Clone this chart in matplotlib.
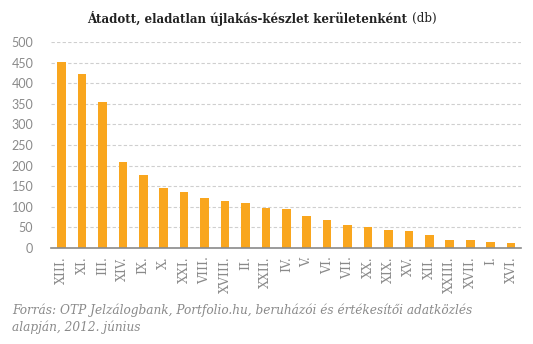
import matplotlib.pyplot as plt
import numpy as np

# districts (sorted by stock) and unsold new-build units
districts = ['XIII.', 'XI.', 'III.', 'XIV.', 'IX.', 'X.', 'XXI.', 'VIII.', 'XVIII.', 'II.',
             'XXII.', 'IV.', 'V.', 'VI.', 'VII.', 'XX.', 'XIX.', 'XV.', 'XII.', 'XXIII.',
             'XVII.', 'I.', 'XVI.']
units = [452, 423, 355, 209, 178, 146, 137, 122, 115, 110,
         98, 95, 78, 69, 57, 52, 44, 42, 32, 20,
         20, 15, 13]
yticks = [0, 50, 100, 150, 200, 250, 300, 350, 400, 450, 500]

bar_color = '#F9A61E'
grey = '#8a8a8a'

fig = plt.figure(figsize=(5.33, 3.44), dpi=100)
ax = fig.add_axes([51.3 / 533, (344 - 248) / 344, 470 / 533, 206 / 344])

x = np.arange(len(districts))
ax.bar(x, units, width=0.42, color=bar_color, zorder=3)

ax.set_xlim(-0.5, len(districts) - 0.5)
ax.set_ylim(0, 500)
ax.set_yticks(yticks)
ax.set_yticklabels([str(v) for v in yticks], fontsize=9, color=grey, family='Lato')
ax.yaxis.grid(True, linestyle=(0, (3, 2)), color='#cfcfcf', linewidth=0.8, zorder=0)
ax.tick_params(axis='y', length=0, pad=13)

ax.set_xticks(x)
ax.set_xticklabels(districts, rotation=90, fontsize=9, color=grey, family='DejaVu Serif')
ax.tick_params(axis='x', length=0, pad=6)

for s in ['top', 'right', 'left']:
    ax.spines[s].set_visible(False)
ax.spines['bottom'].set_color(grey)
ax.spines['bottom'].set_linewidth(1.2)
ax.spines['bottom'].set_zorder(4)

# title: bold part + normal "(db)", centred together
ty = 1 - 18 / 344
t1 = fig.text(0, ty, 'Átadott, eladatlan újlakás-készlet kerületenként ',
              ha='left', va='center', fontsize=8.6, fontweight='bold',
              family='DejaVu Serif', color='#222222')
t2 = fig.text(0, ty, '(db)', ha='left', va='center', fontsize=8.6,
              family='DejaVu Serif', color='#222222')
fig.canvas.draw()
r = fig.canvas.get_renderer()
w1 = t1.get_window_extent(r).width
w2 = t2.get_window_extent(r).width
left = 262 - (w1 + w2) / 2
t1.set_position((left / 533, ty))
t2.set_position(((left + w1) / 533, ty))

fig.text(12 / 533, 1 - 319 / 344,
         'Forrás: OTP Jelzálogbank, Portfolio.hu, beruházói és értékesítői adatközlés\nalapján, 2012. június',
         ha='left', va='center', fontsize=8.7, style='italic', color=grey,
         family='DejaVu Serif', linespacing=1.3)

fig.savefig('out.png', dpi=100)
